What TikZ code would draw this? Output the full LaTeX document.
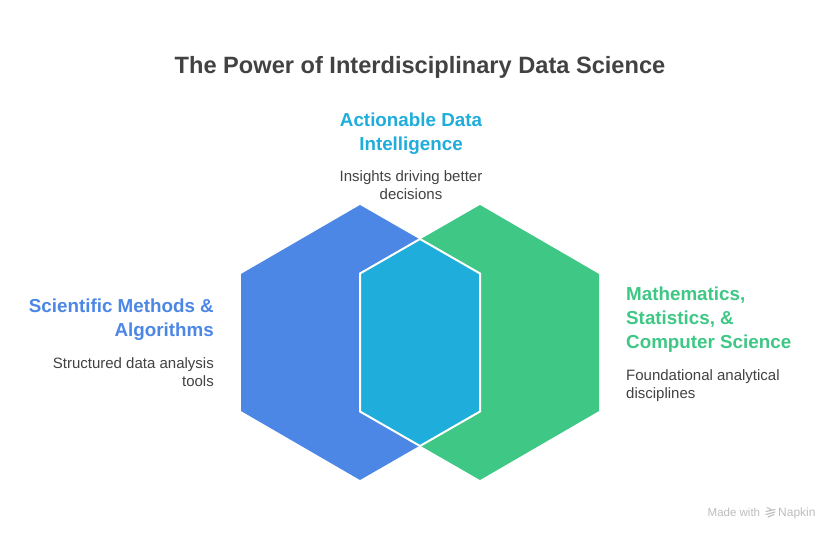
\documentclass[tikz,border=0pt]{standalone}
\usepackage{fontspec}
\setmainfont{Liberation Sans}
\definecolor{blueh}{HTML}{4C87E5}
\definecolor{greenh}{HTML}{3EC785}
\definecolor{cyanh}{HTML}{1FADDB}
\definecolor{ink}{HTML}{424242}
\definecolor{wm}{HTML}{BDBDBD}
\tikzset{
  titletext/.style={inner sep=0pt,text=ink,font=\bfseries\fontsize{23.6}{29}\selectfont},
  headtext/.style={inner sep=0pt,font=\bfseries\fontsize{18.8}{24}\selectfont},
  bodytext/.style={inner sep=0pt,text=ink,font=\fontsize{15}{18.5}\selectfont},
  marktext/.style={inner sep=0pt,text=wm,font=\fontsize{11.5}{14}\selectfont},
}
\begin{document}
\begin{tikzpicture}[x=1pt,y=-1pt]
\useasboundingbox (0,0) rectangle (840,540);
\fill[white] (0,0) rectangle (840,540);
\fill[blueh] (360,205) -- (241,274) -- (241,411) -- (360,480) -- (480,411) -- (480,274) -- cycle;
\fill[greenh] (480,205) -- (599,274) -- (599,411) -- (480,480) -- (360,411) -- (360,274) -- cycle;
\draw[white,line width=2pt,fill=cyanh,line join=miter] (420,239) -- (480,273.5) -- (480,411.5) -- (420,446) -- (360,411.5) -- (360,273.5) -- cycle;
\node[titletext,anchor=north] (title) at (420,56) {The Power of Interdisciplinary Data Science};
\node[headtext,text=cyanh,align=center,anchor=north] (headtop) at (411,113) {Actionable Data\\Intelligence};
\node[bodytext,align=center,anchor=north] (bodytop) at (411,170) {Insights driving better\\decisions};
\node[headtext,text=blueh,align=right,anchor=north east] (headleft) at (214,299) {Scientific Methods \&\\Algorithms};
\node[bodytext,align=right,anchor=north east] (bodyleft) at (214,357) {Structured data analysis\\tools};
\node[headtext,text=greenh,align=left,anchor=north west] (headright) at (626,287) {Mathematics,\\Statistics, \&\\Computer Science};
\node[bodytext,align=left,anchor=north west] (bodyright) at (626,369) {Foundational analytical\\disciplines};
\node[marktext,anchor=base west] (made) at (707.5,516.5) {Made with};
\node[marktext,anchor=base west,font=\fontsize{12}{14}\selectfont] (napkin) at (778,516.5) {Napkin};
\draw[wm,line width=1.1pt,line cap=round] (767,507.5) -- (771,509.5) (766,511.5) -- (775,509.5) (766,514.5) -- (775,512) (768,517) -- (774,514.5);
\end{tikzpicture}
\end{document}
